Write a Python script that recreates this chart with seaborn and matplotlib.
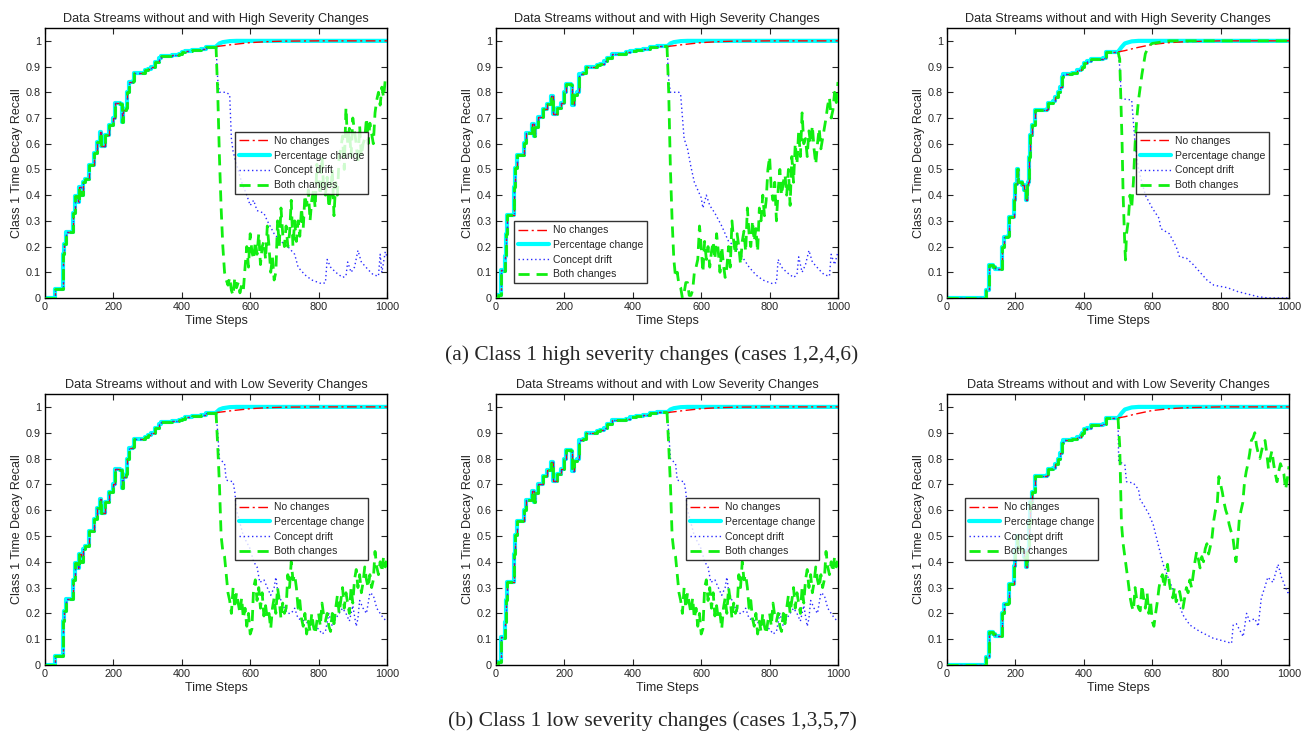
import numpy as np
import pandas as pd
import seaborn as sns
import matplotlib.pyplot as plt
from matplotlib.lines import Line2D

sns.set_style('ticks')
plt.rcParams['font.family'] = ['Liberation Sans', 'DejaVu Sans']
plt.rcParams['xtick.direction'] = 'in'
plt.rcParams['ytick.direction'] = 'in'

# ---- run-up before the change at t=500 (step curves), one per column ----
base_t_a = [0, 30, 52, 56, 60, 82, 88, 96, 100, 106, 112, 118, 128, 142, 153, 160, 165, 174, 188, 198,
            204, 220, 224, 229, 236, 241, 245, 256, 260, 292, 300, 310, 322, 334, 340, 370, 392, 402,
            410, 430, 455, 472, 488, 500]
base_y_a = [0.0, 0.035, 0.17, 0.21, 0.255, 0.33, 0.395, 0.375, 0.43, 0.40, 0.45, 0.462, 0.518, 0.565,
            0.607, 0.645, 0.59, 0.633, 0.672, 0.70, 0.759, 0.755, 0.685, 0.73, 0.74, 0.80, 0.84,
            0.845, 0.875, 0.885, 0.89, 0.90, 0.918, 0.935, 0.94, 0.945, 0.948, 0.955, 0.962, 0.966,
            0.97, 0.975, 0.978, 0.978]

base_t_b = [0, 5, 15, 20, 25, 30, 33, 52, 56, 60, 82, 88, 104, 110, 115, 124, 138, 150, 160, 167,
            178, 190, 198, 204, 219, 222, 228, 238, 244, 255, 262, 295, 305, 315, 325, 340, 380,
            392, 410, 430, 450, 470, 500]
base_y_b = [0.0, 0.01, 0.11, 0.105, 0.165, 0.25, 0.322, 0.43, 0.504, 0.556, 0.601, 0.64, 0.675, 0.63,
            0.665, 0.702, 0.734, 0.755, 0.785, 0.714, 0.74, 0.76, 0.80, 0.832, 0.83, 0.75, 0.79,
            0.80, 0.87, 0.875, 0.90, 0.905, 0.91, 0.92, 0.935, 0.95, 0.955, 0.96, 0.965, 0.97,
            0.975, 0.98, 0.98]

base_t_c = [0, 115, 124, 135, 140, 162, 168, 178, 180, 196, 200, 204, 208, 220, 225, 230, 233, 238,
            240, 244, 248, 258, 292, 296, 310, 315, 324, 330, 335, 340, 365, 380, 392, 396, 402,
            410, 420, 455, 465, 500]
base_y_c = [0.0, 0.03, 0.128, 0.12, 0.112, 0.20, 0.236, 0.24, 0.315, 0.383, 0.445, 0.50, 0.45, 0.44,
            0.42, 0.38, 0.44, 0.45, 0.55, 0.633, 0.672, 0.733, 0.735, 0.76, 0.765, 0.78, 0.80,
            0.82, 0.86, 0.87, 0.875, 0.885, 0.89, 0.90, 0.915, 0.92, 0.931, 0.935, 0.957, 0.957]

# ---- after the change ----
t_smooth = [500, 520, 550, 600, 650, 700, 800, 1000]
nochange_ab = [0.978, 0.981, 0.986, 0.993, 0.997, 0.999, 1.0, 1.0]
nochange_c = [0.957, 0.962, 0.972, 0.986, 0.993, 0.997, 1.0, 1.0]
t_pct = [500, 510, 520, 540, 560, 600, 1000]
pct_ab = [0.978, 0.99, 0.995, 0.999, 1.0, 1.0, 1.0]
pct_c = [0.957, 0.975, 0.99, 0.998, 1.0, 1.0, 1.0]

drift_t_1 = [500, 505, 510, 530, 540, 545, 550, 560, 575, 590, 600, 610, 620, 640, 650, 670, 690,
             710, 730, 740, 760, 780, 800, 810, 820, 825, 835, 850, 870, 880, 885, 895, 905, 915,
             925, 945, 960, 975, 980, 985, 995, 1000]
drift_y_1 = [0.978, 0.85, 0.80, 0.80, 0.79, 0.62, 0.57, 0.52, 0.45, 0.40, 0.36, 0.38, 0.34, 0.33,
             0.30, 0.25, 0.22, 0.20, 0.17, 0.12, 0.09, 0.07, 0.06, 0.055, 0.06, 0.15, 0.12, 0.10,
             0.08, 0.085, 0.14, 0.10, 0.12, 0.185, 0.14, 0.11, 0.09, 0.085, 0.17, 0.10, 0.18, 0.16]

drift_t_2 = [500, 505, 510, 535, 540, 550, 560, 570, 580, 590, 600, 605, 615, 625, 640, 660, 680,
             700, 720, 740, 760, 780, 800, 810, 820, 825, 835, 850, 870, 880, 885, 895, 905, 915,
             925, 945, 960, 975, 980, 990, 1000]
drift_y_2 = [0.98, 0.85, 0.80, 0.80, 0.79, 0.62, 0.58, 0.51, 0.45, 0.42, 0.39, 0.35, 0.40, 0.36,
             0.33, 0.28, 0.22, 0.20, 0.16, 0.12, 0.09, 0.07, 0.06, 0.055, 0.06, 0.15, 0.12, 0.10,
             0.08, 0.09, 0.16, 0.10, 0.13, 0.185, 0.14, 0.11, 0.09, 0.085, 0.17, 0.13, 0.18]

drift_t_3 = [500, 505, 510, 540, 550, 560, 580, 600, 620, 625, 650, 670, 680, 700, 720, 740, 760,
             780, 800, 820, 850, 880, 910, 940, 1000]
drift_y_3 = [0.957, 0.90, 0.775, 0.77, 0.60, 0.50, 0.40, 0.35, 0.31, 0.27, 0.25, 0.20, 0.16, 0.155,
             0.13, 0.10, 0.07, 0.05, 0.045, 0.04, 0.025, 0.015, 0.005, 0.0, 0.0]

drift_t_low = [500, 505, 510, 525, 530, 550, 555, 560, 570, 580, 600, 610, 620, 628, 640, 650, 660,
               670, 675, 680, 690, 700, 710, 720, 730, 740, 760, 780, 800, 810, 820, 830, 840, 850,
               860, 870, 880, 890, 900, 910, 915, 920, 930, 940, 950, 960, 970, 980, 990, 1000]
drift_y_low = [0.98, 0.90, 0.80, 0.78, 0.716, 0.71, 0.67, 0.60, 0.55, 0.50, 0.45, 0.40, 0.38, 0.32,
               0.33, 0.30, 0.27, 0.30, 0.34, 0.29, 0.25, 0.22, 0.20, 0.20, 0.22, 0.18, 0.17, 0.15,
               0.14, 0.12, 0.13, 0.20, 0.15, 0.18, 0.20, 0.22, 0.20, 0.17, 0.23, 0.15, 0.18, 0.25,
               0.22, 0.20, 0.28, 0.27, 0.22, 0.20, 0.18, 0.17]

drift_t_6 = [500, 502, 520, 525, 545, 560, 565, 575, 590, 603, 632, 652, 671, 690, 710, 739, 778, 817,
             832, 837, 846, 866, 876, 885, 900, 910, 919, 929, 938, 953, 968, 978, 987, 997, 1000]
drift_y_6 = [0.957, 0.79, 0.775, 0.71, 0.705, 0.68, 0.64, 0.62, 0.585, 0.544, 0.39, 0.32, 0.26, 0.194,
             0.155, 0.13, 0.104, 0.09, 0.084, 0.155, 0.16, 0.11, 0.20, 0.17, 0.18, 0.15, 0.26, 0.30,
             0.34, 0.32, 0.39, 0.34, 0.31, 0.28, 0.29]

both_t_3 = [500, 505, 512, 515, 520, 522, 525, 530, 535, 540, 545, 550, 555, 560, 570, 580, 590, 600,
            650, 1000]
both_y_3 = [0.957, 0.93, 0.60, 0.40, 0.20, 0.148, 0.25, 0.30, 0.40, 0.35, 0.45, 0.60, 0.70, 0.77, 0.87,
            0.95, 0.98, 0.99, 1.0, 1.0]

# noisy "both changes" series, sampled every 5 time steps from 500 to 1000
t_noisy = list(range(500, 1001, 5))
both_y_1 = [0.98, 0.80, 0.55, 0.35, 0.20, 0.10, 0.07, 0.05, 0.08, 0.03,
            0.01, 0.08, 0.04, 0.06, 0.02, 0.05, 0.03, 0.12, 0.20, 0.12,
            0.25, 0.18, 0.15, 0.22, 0.17, 0.25, 0.13, 0.20, 0.22, 0.15,
            0.28, 0.20, 0.10, 0.16, 0.07, 0.10, 0.30, 0.20, 0.35, 0.25,
            0.20, 0.28, 0.20, 0.25, 0.38, 0.20, 0.30, 0.22, 0.30, 0.24,
            0.35, 0.27, 0.40, 0.36, 0.42, 0.30, 0.38, 0.42, 0.35, 0.52,
            0.45, 0.40, 0.55, 0.42, 0.40, 0.47, 0.35, 0.40, 0.50, 0.32,
            0.45, 0.40, 0.55, 0.58, 0.63, 0.50, 0.74, 0.60, 0.66, 0.55,
            0.70, 0.65, 0.60, 0.52, 0.67, 0.55, 0.60, 0.62, 0.70, 0.60,
            0.68, 0.64, 0.60, 0.72, 0.77, 0.80, 0.75, 0.82, 0.78, 0.85,
            0.86]
both_y_2 = [0.98, 0.80, 0.50, 0.30, 0.15, 0.08, 0.10, 0.05, 0.04, 0.00,
            0.02, 0.06, 0.06, 0.01, 0.01, 0.03, 0.10, 0.12, 0.15, 0.28,
            0.20, 0.10, 0.22, 0.15, 0.20, 0.12, 0.18, 0.22, 0.15, 0.25,
            0.18, 0.10, 0.20, 0.13, 0.08, 0.12, 0.20, 0.12, 0.30, 0.22,
            0.17, 0.25, 0.20, 0.13, 0.22, 0.26, 0.18, 0.35, 0.25, 0.20,
            0.30, 0.22, 0.27, 0.18, 0.35, 0.30, 0.40, 0.32, 0.38, 0.50,
            0.55, 0.42, 0.38, 0.45, 0.30, 0.42, 0.50, 0.40, 0.45, 0.48,
            0.40, 0.50, 0.36, 0.55, 0.45, 0.60, 0.52, 0.65, 0.55, 0.72,
            0.60, 0.62, 0.55, 0.65, 0.60, 0.67, 0.58, 0.52, 0.60, 0.66,
            0.58, 0.62, 0.66, 0.70, 0.75, 0.78, 0.70, 0.73, 0.80, 0.76,
            0.84]
both_y_low = [0.98, 0.85, 0.70, 0.50, 0.44, 0.42, 0.35, 0.28, 0.25, 0.20,
              0.30, 0.22, 0.28, 0.24, 0.20, 0.26, 0.18, 0.22, 0.15, 0.20,
              0.12, 0.14, 0.30, 0.33, 0.25, 0.30, 0.22, 0.28, 0.19, 0.23,
              0.18, 0.20, 0.14, 0.22, 0.26, 0.20, 0.30, 0.25, 0.18, 0.24,
              0.20, 0.22, 0.35, 0.30, 0.40, 0.33, 0.35, 0.30, 0.22, 0.25,
              0.18, 0.15, 0.20, 0.12, 0.17, 0.13, 0.20, 0.15, 0.12, 0.17,
              0.20, 0.15, 0.24, 0.19, 0.17, 0.20, 0.15, 0.13, 0.20, 0.16,
              0.22, 0.27, 0.20, 0.25, 0.30, 0.22, 0.28, 0.24, 0.20, 0.30,
              0.24, 0.33, 0.37, 0.30, 0.35, 0.28, 0.32, 0.38, 0.33, 0.30,
              0.35, 0.30, 0.33, 0.44, 0.38, 0.35, 0.40, 0.36, 0.42, 0.38,
              0.42]
both_y_6 = [0.957, 0.85, 0.55, 0.47, 0.42, 0.37, 0.32, 0.265, 0.23, 0.21,
            0.30, 0.25, 0.22, 0.21, 0.31, 0.26, 0.22, 0.28, 0.20, 0.25,
            0.17, 0.15, 0.20, 0.245, 0.30, 0.335, 0.35, 0.30, 0.34, 0.39,
            0.32, 0.28, 0.26, 0.30, 0.245, 0.27, 0.285, 0.25, 0.22, 0.26,
            0.30, 0.28, 0.33, 0.30, 0.35, 0.40, 0.44, 0.41, 0.376, 0.42,
            0.40, 0.45, 0.47, 0.43, 0.46, 0.495, 0.56, 0.60, 0.62, 0.73,
            0.70, 0.67, 0.63, 0.60, 0.58, 0.545, 0.52, 0.505, 0.45, 0.40,
            0.48, 0.57, 0.60, 0.63, 0.71, 0.75, 0.78, 0.82, 0.87, 0.88,
            0.90, 0.85, 0.82, 0.80, 0.83, 0.86, 0.87, 0.82, 0.76, 0.80,
            0.83, 0.78, 0.74, 0.71, 0.75, 0.78, 0.76, 0.74, 0.68, 0.72,
            0.77]

labels = ['No changes', 'Percentage change', 'Concept drift', 'Both changes']
titles = ['Data Streams without and with High Severity Changes',
          'Data Streams without and with Low Severity Changes']
captions = ['(a) Class 1 high severity changes (cases 1,2,4,6)',
            '(b) Class 1 low severity changes (cases 1,3,5,7)']

# styles: colour, linestyle, linewidth
styles = {
    'No changes': ('#ff0000', (0, (7, 2.5, 1.5, 2.5)), 1.0),
    'Percentage change': ('#00ffff', '-', 3.0),
    'Concept drift': ('#2a2aff', (0, (1, 2)), 1.0),
    'Both changes': ('#11ee11', (0, (4, 2.5)), 2.0),
}
zorders = {'Percentage change': 2, 'No changes': 3, 'Concept drift': 4, 'Both changes': 5}

panels = [
    dict(base=(base_t_a, base_y_a), noch=(t_smooth, nochange_ab), pct=(t_pct, pct_ab),
         drift=(drift_t_1, drift_y_1), both=(t_noisy, both_y_1), leg=(0.556, 0.615), row=0),
    dict(base=(base_t_b, base_y_b), noch=(t_smooth, nochange_ab), pct=(t_pct, pct_ab),
         drift=(drift_t_2, drift_y_2), both=(t_noisy, both_y_2), leg=(0.053, 0.285), row=0),
    dict(base=(base_t_c, base_y_c), noch=(t_smooth, nochange_c), pct=(t_pct, pct_c),
         drift=(drift_t_3, drift_y_3), both=(both_t_3, both_y_3), leg=(0.553, 0.615), row=0),
    dict(base=(base_t_a, base_y_a), noch=(t_smooth, nochange_ab), pct=(t_pct, pct_ab),
         drift=(drift_t_low, drift_y_low), both=(t_noisy, both_y_low), leg=(0.556, 0.616), row=1),
    dict(base=(base_t_b, base_y_b), noch=(t_smooth, nochange_ab), pct=(t_pct, pct_ab),
         drift=(drift_t_low, drift_y_low), both=(t_noisy, both_y_low), leg=(0.556, 0.616), row=1),
    dict(base=(base_t_c, base_y_c), noch=(t_smooth, nochange_c), pct=(t_pct, pct_c),
         drift=(drift_t_6, drift_y_6), both=(t_noisy, both_y_6), leg=(0.053, 0.616), row=1),
]

W, H = 1312, 737
fig = plt.figure(figsize=(W / 100, H / 100), dpi=100)
lefts = [45, 496, 947]
rows = [(28, 298), (394, 665)]

for i, p in enumerate(panels):
    col = i % 3
    top, bottom = rows[p['row']]
    ax = fig.add_axes([lefts[col] / W, (H - bottom) / H, 342 / W, (bottom - top) / H])
    handles = {}
    for key, lab in zip(['noch', 'pct', 'drift', 'both'], labels):
        color, ls, lw = styles[lab]
        bt, by = p['base']
        sns.lineplot(x=bt, y=by, ax=ax, estimator=None, sort=False, color=color,
                     linestyle=ls, linewidth=lw, drawstyle='steps-post', zorder=zorders[lab])
        pt, py = p[key]
        sns.lineplot(x=pt, y=py, ax=ax, estimator=None, sort=False, color=color,
                     linestyle=ls, linewidth=lw, zorder=zorders[lab])
        handles[lab] = Line2D([], [], color=color, linestyle=ls, linewidth=lw)
    ax.set_xlim(0, 1000)
    ax.set_ylim(0, 1.05)
    ax.set_xticks([0, 200, 400, 600, 800, 1000])
    ax.set_yticks([0, 0.1, 0.2, 0.3, 0.4, 0.5, 0.6, 0.7, 0.8, 0.9, 1.0])
    ax.set_yticklabels(['0', '0.1', '0.2', '0.3', '0.4', '0.5', '0.6', '0.7', '0.8', '0.9', '1'])
    ax.tick_params(labelsize=7.8, length=4, width=0.8, top=True, right=True, pad=3)
    for s in ax.spines.values():
        s.set_color('black')
        s.set_linewidth(1.0)
    ax.set_title(titles[p['row']], fontsize=9.1, pad=4)
    ax.set_xlabel('Time Steps', fontsize=9, labelpad=2)
    ax.set_ylabel('Class 1 Time Decay Recall', fontsize=9, labelpad=2)
    leg = ax.legend([handles[l] for l in labels], labels, loc='upper left',
                    bbox_to_anchor=p['leg'], fontsize=7.5, frameon=True, fancybox=False,
                    handlelength=2.9, handletextpad=0.4, labelspacing=0.45,
                    borderpad=0.4, borderaxespad=0)
    leg.get_frame().set_edgecolor('black')
    leg.get_frame().set_linewidth(1.0)
    leg.set_zorder(10)

fig.text(652 / W, 1 - 355 / H, captions[0], ha='center', va='center', fontsize=15.5,
         family=['Liberation Serif', 'DejaVu Serif'])
fig.text(652 / W, 1 - 721 / H, captions[1], ha='center', va='center', fontsize=15.5,
         family=['Liberation Serif', 'DejaVu Serif'])

fig.savefig('out.png', dpi=100)
